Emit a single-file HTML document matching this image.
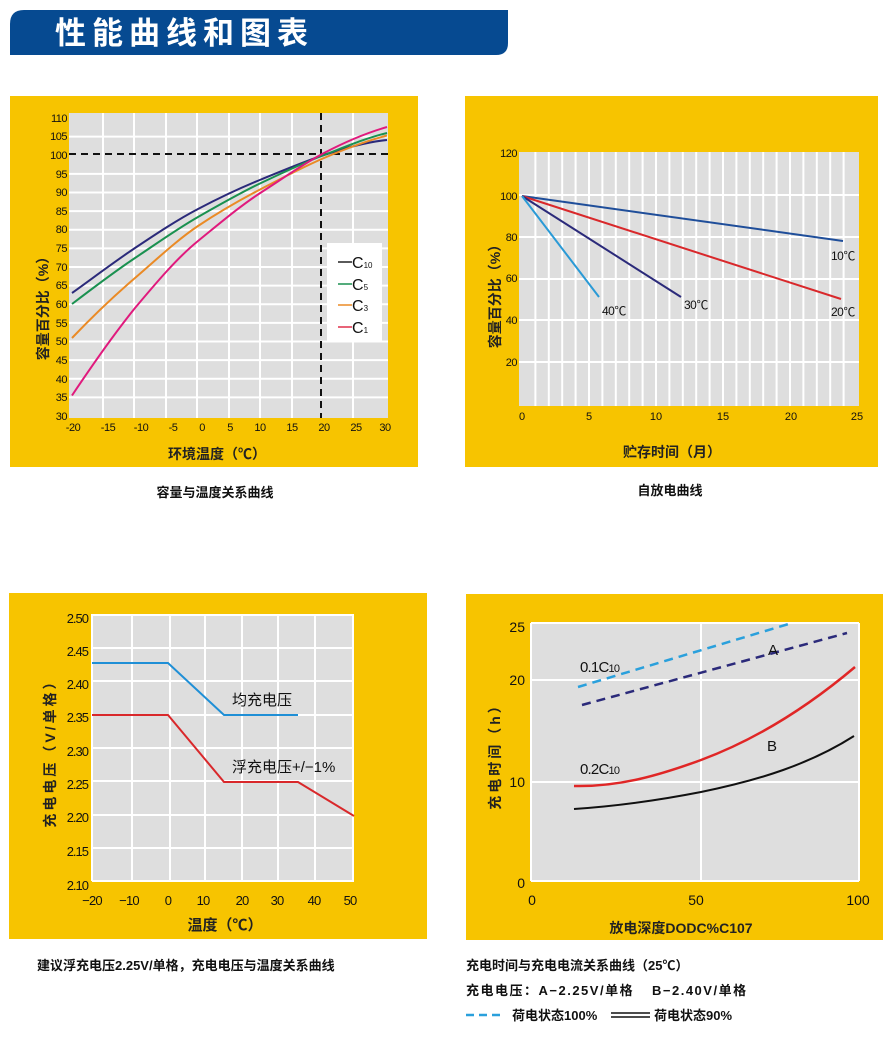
<!DOCTYPE html>
<html><head><meta charset="utf-8"><style>
body{margin:0;background:#fff;}
svg text{font-family:"Liberation Sans","Noto Sans CJK SC",sans-serif;}
</style></head><body>
<svg width="890" height="1034" viewBox="0 0 890 1034" xmlns="http://www.w3.org/2000/svg">
<path d="M24,10 H508 V43 Q508,55 496,55 H10 V24 Q10,10 24,10 Z" fill="#064a91"/>
<text x="55" y="44" font-size="31" fill="#fff" font-weight="bold" letter-spacing="6">性能曲线和图表</text>

<!-- CHART 1 -->
<rect x="10" y="96" width="408" height="371" fill="#f7c400"/>
<rect x="69" y="113" width="319" height="305" fill="#dedede"/>
<g stroke="#fff" stroke-width="2">
<line x1="103" y1="113" x2="103" y2="418"/><line x1="134" y1="113" x2="134" y2="418"/><line x1="166" y1="113" x2="166" y2="418"/><line x1="197" y1="113" x2="197" y2="418"/><line x1="229" y1="113" x2="229" y2="418"/><line x1="260" y1="113" x2="260" y2="418"/><line x1="292" y1="113" x2="292" y2="418"/><line x1="353" y1="113" x2="353" y2="418"/>
<line x1="69" y1="136.6" x2="388" y2="136.6"/><line x1="69" y1="173.9" x2="388" y2="173.9"/><line x1="69" y1="192.5" x2="388" y2="192.5"/><line x1="69" y1="211.1" x2="388" y2="211.1"/><line x1="69" y1="229.8" x2="388" y2="229.8"/><line x1="69" y1="248.4" x2="388" y2="248.4"/><line x1="69" y1="267" x2="388" y2="267"/><line x1="69" y1="285.6" x2="388" y2="285.6"/><line x1="69" y1="304.3" x2="388" y2="304.3"/><line x1="69" y1="322.9" x2="388" y2="322.9"/><line x1="69" y1="341.5" x2="388" y2="341.5"/><line x1="69" y1="360.1" x2="388" y2="360.1"/><line x1="69" y1="378.8" x2="388" y2="378.8"/><line x1="69" y1="397.4" x2="388" y2="397.4"/>
</g>
<g stroke="#111" stroke-width="2" stroke-dasharray="7,5">
<line x1="69" y1="154" x2="388" y2="154"/><line x1="321" y1="113" x2="321" y2="418"/>
</g>
<g fill="none" stroke-width="2" stroke-linejoin="round">
<path d="M72,293 C93,278 114,262 135,248 C156,234 177,220 198,209 C219,198 240,188 261,179.5 C282,171 303,162 324,155 C345,148 366,142 387,140" stroke="#2b2a7a"/>
<path d="M72,304 C93,288 114,272 135,258 C156,244 177,229 198,217 C219,205 240,193 261,183 C282,173 303,163 324,155 C345,147 366,138 387,133" stroke="#1a9150"/>
<path d="M72,338 C93,316 114,296 135,278 C156,260 177,240 198,226 C219,212 240,200 261,189 C282,178 303,167 324,158 C345,149 366,141 387,135.5" stroke="#ea8a25"/>
<path d="M72,395.5 C93,364 114,334 135,308 C156,283 177,258 198,241 C219,224 240,206 261,192.5 C282,179 303,164 324,153 C345,142 366,133 387,127" stroke="#e01a7d"/>
</g>
<rect x="327" y="243" width="55" height="99" fill="#fff"/>
<g stroke-width="1.5"><line x1="338" y1="262" x2="352" y2="262" stroke="#222"/><line x1="338" y1="284" x2="352" y2="284" stroke="#1a9150"/><line x1="338" y1="305" x2="352" y2="305" stroke="#ea8a25"/><line x1="338" y1="327" x2="352" y2="327" stroke="#e0304a"/></g>
<g font-size="16" fill="#111"><text x="352" y="268">C<tspan font-size="8">10</tspan></text><text x="352" y="290">C<tspan font-size="8">5</tspan></text><text x="352" y="311">C<tspan font-size="8">3</tspan></text><text x="352" y="333">C<tspan font-size="8">1</tspan></text></g>
<g font-size="11" fill="#111" text-anchor="end" letter-spacing="-0.5">
<text x="67" y="122">110</text><text x="67" y="140">105</text><text x="67" y="159">100</text><text x="67" y="178">95</text><text x="67" y="196">90</text><text x="67" y="215">85</text><text x="67" y="233">80</text><text x="67" y="252">75</text><text x="67" y="271">70</text><text x="67" y="289">65</text><text x="67" y="308">60</text><text x="67" y="327">55</text><text x="67" y="345">50</text><text x="67" y="364">45</text><text x="67" y="383">40</text><text x="67" y="401">35</text><text x="67" y="420">30</text>
</g>
<g font-size="11" fill="#111" text-anchor="middle" letter-spacing="-0.5">
<text x="73" y="431">-20</text><text x="108" y="431">-15</text><text x="141" y="431">-10</text><text x="173" y="431">-5</text><text x="202" y="431">0</text><text x="230" y="431">5</text><text x="260" y="431">10</text><text x="292" y="431">15</text><text x="324" y="431">20</text><text x="356" y="431">25</text><text x="385" y="431">30</text>
</g>
<text x="217" y="459" font-size="14" font-weight="bold" fill="#222" text-anchor="middle">环境温度（℃）</text>
<text transform="translate(48,305) rotate(-90)" font-size="14" font-weight="bold" fill="#222" text-anchor="middle">容量百分比（%）</text>
<text x="215" y="497" font-size="13" font-weight="bold" fill="#111" text-anchor="middle">容量与温度关系曲线</text>

<!-- CHART 2 -->
<rect x="465" y="96" width="413" height="371" fill="#f7c400"/>
<rect x="519" y="152" width="340" height="254" fill="#dedede"/>
<g stroke="#fff" stroke-width="2">
<line x1="535.4" y1="152" x2="535.4" y2="406"/><line x1="548.8" y1="152" x2="548.8" y2="406"/><line x1="562.2" y1="152" x2="562.2" y2="406"/><line x1="575.6" y1="152" x2="575.6" y2="406"/><line x1="589" y1="152" x2="589" y2="406"/><line x1="602.4" y1="152" x2="602.4" y2="406"/><line x1="615.8" y1="152" x2="615.8" y2="406"/><line x1="629.2" y1="152" x2="629.2" y2="406"/><line x1="642.6" y1="152" x2="642.6" y2="406"/><line x1="656" y1="152" x2="656" y2="406"/><line x1="669.4" y1="152" x2="669.4" y2="406"/><line x1="682.8" y1="152" x2="682.8" y2="406"/><line x1="696.2" y1="152" x2="696.2" y2="406"/><line x1="709.6" y1="152" x2="709.6" y2="406"/><line x1="723" y1="152" x2="723" y2="406"/><line x1="736.4" y1="152" x2="736.4" y2="406"/><line x1="749.8" y1="152" x2="749.8" y2="406"/><line x1="763.2" y1="152" x2="763.2" y2="406"/><line x1="776.6" y1="152" x2="776.6" y2="406"/><line x1="790" y1="152" x2="790" y2="406"/><line x1="803.4" y1="152" x2="803.4" y2="406"/><line x1="816.8" y1="152" x2="816.8" y2="406"/><line x1="830.2" y1="152" x2="830.2" y2="406"/><line x1="843.6" y1="152" x2="843.6" y2="406"/>
<line x1="519" y1="195" x2="859" y2="195"/><line x1="519" y1="237" x2="859" y2="237"/><line x1="519" y1="279" x2="859" y2="279"/><line x1="519" y1="320" x2="859" y2="320"/><line x1="519" y1="362" x2="859" y2="362"/>
</g>
<g stroke-width="2" fill="none">
<line x1="522" y1="196" x2="843" y2="241" stroke="#1f4e9a"/>
<line x1="522" y1="196" x2="841" y2="299" stroke="#d9282b"/>
<line x1="522" y1="196" x2="681" y2="297" stroke="#2b2a7a"/>
<line x1="522" y1="196" x2="599" y2="297" stroke="#2a9ad6"/>
</g>
<g font-size="12" fill="#111" letter-spacing="-0.5">
<text x="831" y="260">10℃</text><text x="602" y="315">40℃</text><text x="684" y="309">30℃</text><text x="831" y="316">20℃</text>
</g>
<g font-size="11" fill="#111" text-anchor="end" letter-spacing="-0.5">
<text x="517" y="157">120</text><text x="517" y="200">100</text><text x="517" y="241">80</text><text x="517" y="282">60</text><text x="517" y="324">40</text><text x="517" y="366">20</text>
</g>
<g font-size="11" fill="#111" text-anchor="middle">
<text x="522" y="420">0</text><text x="589" y="420">5</text><text x="656" y="420">10</text><text x="723" y="420">15</text><text x="791" y="420">20</text><text x="857" y="420">25</text>
</g>
<text x="672" y="457" font-size="14" font-weight="bold" fill="#222" text-anchor="middle">贮存时间（月）</text>
<text transform="translate(500,293) rotate(-90)" font-size="14" font-weight="bold" fill="#222" text-anchor="middle">容量百分比（%）</text>
<text x="670" y="495" font-size="13" font-weight="bold" fill="#111" text-anchor="middle">自放电曲线</text>

<!-- CHART 3 -->
<rect x="9" y="593" width="418" height="346" fill="#f7c400"/>
<rect x="92" y="614" width="262" height="267" fill="#dedede"/>
<g stroke="#fff" stroke-width="2">
<line x1="92" y1="614" x2="92" y2="881"/><line x1="132" y1="614" x2="132" y2="881"/><line x1="170" y1="614" x2="170" y2="881"/><line x1="205" y1="614" x2="205" y2="881"/><line x1="242" y1="614" x2="242" y2="881"/><line x1="278" y1="614" x2="278" y2="881"/><line x1="315" y1="614" x2="315" y2="881"/><line x1="353" y1="614" x2="353" y2="881"/>
<line x1="92" y1="615" x2="354" y2="615"/><line x1="92" y1="648" x2="354" y2="648"/><line x1="92" y1="681" x2="354" y2="681"/><line x1="92" y1="715" x2="354" y2="715"/><line x1="92" y1="748" x2="354" y2="748"/><line x1="92" y1="781" x2="354" y2="781"/><line x1="92" y1="815" x2="354" y2="815"/><line x1="92" y1="848" x2="354" y2="848"/><line x1="92" y1="881" x2="354" y2="881"/>
</g>
<polyline points="92,663 168,663 224,715 298,715" fill="none" stroke="#1f8fd6" stroke-width="2"/>
<polyline points="92,715 168,715 224,782 298,782 354,816" fill="none" stroke="#d9282b" stroke-width="2"/>
<text x="232" y="705" font-size="15" fill="#111">均充电压</text>
<text x="232" y="772" font-size="15" fill="#111">浮充电压+/−1%</text>
<g font-size="13" fill="#111" text-anchor="end" letter-spacing="-1">
<text x="88" y="623">2.50</text><text x="88" y="656">2.45</text><text x="88" y="689">2.40</text><text x="88" y="722">2.35</text><text x="88" y="756">2.30</text><text x="88" y="789">2.25</text><text x="88" y="822">2.20</text><text x="88" y="856">2.15</text><text x="88" y="890">2.10</text>
</g>
<g font-size="13" fill="#111" text-anchor="middle" letter-spacing="-0.8">
<text x="92" y="905">−20</text><text x="129" y="905">−10</text><text x="168" y="905">0</text><text x="203" y="905">10</text><text x="242" y="905">20</text><text x="277" y="905">30</text><text x="314" y="905">40</text><text x="350" y="905">50</text>
</g>
<text x="225" y="930" font-size="15" font-weight="bold" fill="#222" text-anchor="middle">温度（℃）</text>
<text transform="translate(55,750) rotate(-90)" font-size="14" font-weight="bold" fill="#222" text-anchor="middle" letter-spacing="3">充电电压（V/单格）</text>
<text x="37" y="970" font-size="13" font-weight="bold" fill="#111">建议浮充电压2.25V/单格，充电电压与温度关系曲线</text>

<!-- CHART 4 -->
<rect x="466" y="594" width="417" height="346" fill="#f7c400"/>
<rect x="531" y="623" width="328" height="258" fill="#dedede"/>
<g stroke="#fff" stroke-width="2">
<line x1="531" y1="623" x2="531" y2="881"/><line x1="701" y1="623" x2="701" y2="881"/><line x1="859" y1="623" x2="859" y2="881"/>
<line x1="531" y1="623" x2="859" y2="623"/><line x1="531" y1="680" x2="859" y2="680"/><line x1="531" y1="782" x2="859" y2="782"/><line x1="531" y1="881" x2="859" y2="881"/>
</g>
<line x1="578" y1="687" x2="792" y2="623" stroke="#2aa0dc" stroke-width="2.5" stroke-dasharray="9,6"/>
<line x1="582" y1="705" x2="847" y2="633" stroke="#2b2a7a" stroke-width="2.5" stroke-dasharray="9,6"/>
<path d="M574,786 C620,787 660,775 701,760 C760,738 810,705 855,667" fill="none" stroke="#e02626" stroke-width="2.5"/>
<path d="M574,809 C620,806 660,800 701,792 C760,780 810,764 854,736" fill="none" stroke="#111" stroke-width="2"/>
<g font-size="15" fill="#111" letter-spacing="-0.8">
<text x="580" y="672">0.1C<tspan font-size="11">10</tspan></text>
<text x="768" y="655">A</text>
<text x="580" y="774">0.2C<tspan font-size="11">10</tspan></text>
<text x="767" y="751">B</text>
</g>
<g font-size="14" fill="#111" text-anchor="end">
<text x="525" y="632">25</text><text x="525" y="685">20</text><text x="525" y="787">10</text><text x="525" y="888">0</text>
</g>
<g font-size="14" fill="#111" text-anchor="middle">
<text x="532" y="905">0</text><text x="696" y="905">50</text><text x="858" y="905">100</text>
</g>
<text x="681" y="933" font-size="14" fill="#222" font-weight="bold" text-anchor="middle">放电深度DODC%C107</text>
<text transform="translate(500,753) rotate(-90)" font-size="14" font-weight="bold" fill="#222" text-anchor="middle" letter-spacing="3">充电时间（h）</text>
<text x="466" y="970" font-size="13" font-weight="bold" fill="#111">充电时间与充电电流关系曲线（25℃）</text>
<text x="466" y="995" font-size="13" font-weight="bold" fill="#111" letter-spacing="1.5">充电电压：A−2.25V/单格</text>
<text x="652" y="995" font-size="13" font-weight="bold" fill="#111" letter-spacing="1.5">B−2.40V/单格</text>
<line x1="466" y1="1015" x2="505" y2="1015" stroke="#2aa0dc" stroke-width="2.5" stroke-dasharray="8,5"/>
<text x="512" y="1020" font-size="13" font-weight="bold" fill="#111">荷电状态100%</text>
<line x1="611" y1="1013" x2="650" y2="1013" stroke="#111" stroke-width="1.5"/>
<line x1="611" y1="1017" x2="650" y2="1017" stroke="#111" stroke-width="1.5"/>
<text x="654" y="1020" font-size="13" font-weight="bold" fill="#111">荷电状态90%</text>
</svg>
</body></html>
